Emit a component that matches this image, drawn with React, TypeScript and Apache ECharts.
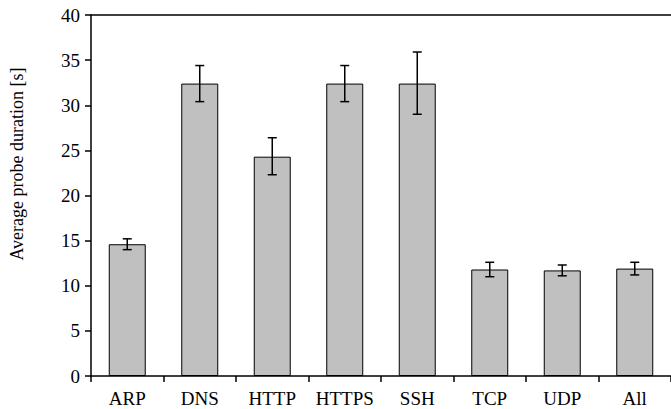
import React, { useEffect, useRef } from "react";
import * as echarts from "echarts";

const categories = ["ARP", "DNS", "HTTP", "HTTPS", "SSH", "TCP", "UDP", "All"];
const meanValues = [14.6, 32.4, 24.3, 32.4, 32.4, 11.8, 11.7, 11.9];
const errLow = [14.0, 30.4, 22.3, 30.4, 29.0, 11.0, 11.1, 11.2];
const errHigh = [15.2, 34.4, 26.4, 34.4, 35.9, 12.6, 12.3, 12.6];
const yTitle = "Average probe duration [s]";

const FONT = "Liberation Serif, Times New Roman, Times, serif";

export default function App() {
  const ref = useRef<HTMLDivElement>(null);
  useEffect(() => {
    if (!ref.current) return;
    const chart = echarts.init(ref.current, undefined, { renderer: "svg" });
    const errData = categories.map((_, i) => [i, errLow[i], errHigh[i]]);
    chart.setOption({
      animation: false,
      textStyle: { fontFamily: FONT },
      grid: { left: 91, right: 0, top: 15, bottom: 33, containLabel: false },
      graphic: [
        {
          type: "text",
          x: 17,
          y: 164,
          rotation: Math.PI / 2,
          style: {
            text: yTitle,
            fontFamily: FONT,
            fontSize: 18,
            fill: "#000",
            align: "center",
            verticalAlign: "middle",
          },
        },
      ],
      xAxis: [
        {
          type: "category",
          data: categories,
          axisLine: { lineStyle: { color: "#000", width: 1.5 } },
          axisTick: { show: true, length: 6, interval: 0, lineStyle: { color: "#000", width: 1.5 } },
          axisLabel: { color: "#000", fontFamily: FONT, fontSize: 19, margin: 13, interval: 0, hideOverlap: false },
          splitLine: { show: false },
        },
        {
          type: "category",
          data: categories,
          position: "top",
          axisLine: { show: true, lineStyle: { color: "#000", width: 1.5 } },
          axisTick: { show: false },
          axisLabel: { show: false },
          splitLine: { show: false },
        },
      ],
      yAxis: {
        type: "value",
        min: 0,
        max: 40,
        interval: 5,
        axisLine: { show: true, lineStyle: { color: "#000", width: 1.5 } },
        axisTick: { show: true, length: 6, lineStyle: { color: "#000", width: 1.5 } },
        axisLabel: { color: "#000", fontFamily: FONT, fontSize: 19, margin: 11 },
        splitLine: { show: false },
      },
      series: [
        {
          type: "bar",
          data: meanValues,
          barWidth: "51%",
          itemStyle: { color: "#c0c0c0", borderColor: "#000", borderWidth: 1 },
        },
        {
          type: "custom",
          data: errData,
          z: 10,
          renderItem: (params: any, api: any) => {
            const x = api.value(0);
            const lo = api.coord([x, api.value(1)]);
            const hi = api.coord([x, api.value(2)]);
            const hw = 4.5;
            const style = { stroke: "#000", lineWidth: 1.5 };
            return {
              type: "group",
              children: [
                { type: "line", shape: { x1: lo[0], y1: lo[1], x2: hi[0], y2: hi[1] }, style },
                { type: "line", shape: { x1: hi[0] - hw, y1: hi[1], x2: hi[0] + hw, y2: hi[1] }, style },
                { type: "line", shape: { x1: lo[0] - hw, y1: lo[1], x2: lo[0] + hw, y2: lo[1] }, style },
              ],
            };
          },
        },
      ],
    });
    return () => chart.dispose();
  }, []);
  return <div ref={ref} style={{ width: 671, height: 409, position: "fixed", left: 0, top: 0, background: "#fff" }} />;
}
